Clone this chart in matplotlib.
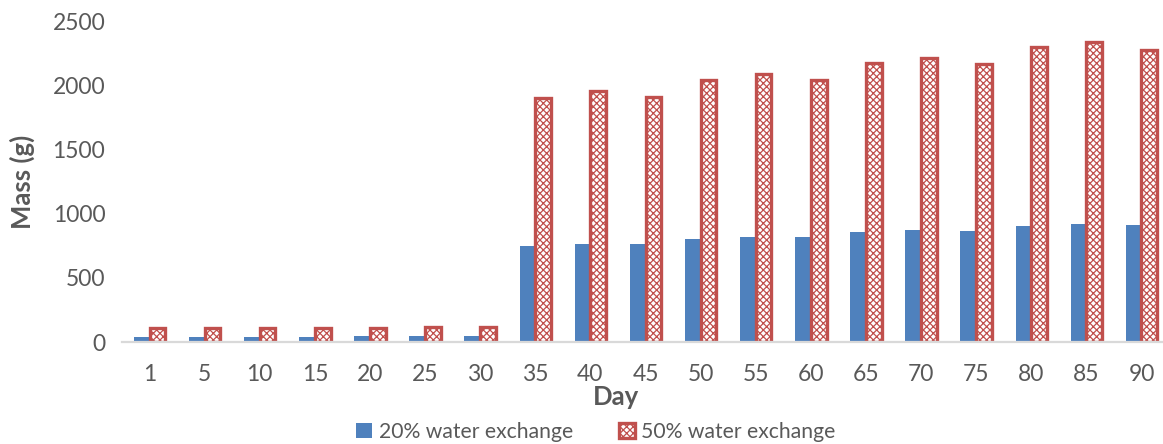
import matplotlib
matplotlib.use("Agg")
import matplotlib.pyplot as plt
import numpy as np

days = ["1", "5", "10", "15", "20", "25", "30", "35", "40", "45",
        "50", "55", "60", "65", "70", "75", "80", "85", "90"]
mass_20 = [40, 42, 42, 42, 43, 45, 45, 750, 766, 766,
           805, 820, 820, 857, 872, 870, 906, 919, 911]
mass_50 = [110, 110, 112, 108, 113, 118, 118, 1910, 1958, 1912,
           2048, 2092, 2048, 2180, 2222, 2172, 2302, 2340, 2282]
y_ticks = [0, 500, 1000, 1500, 2000, 2500]

plt.rcParams["font.family"] = ["Lato", "DejaVu Sans"]
plt.rcParams["hatch.linewidth"] = 0.9

text_grey = "#595959"
blue = "#4F81BD"
red = "#C0504D"

fig = plt.figure(figsize=(11.63, 4.44), dpi=100)
ax = fig.add_axes([122 / 1163, 102 / 444, 1047 / 1163, 320 / 444])

x = np.arange(len(days))
w = 0.285
ax.bar(x - w / 2, mass_20, width=w, color=blue, linewidth=0,
       label="20% water exchange", zorder=2)
ax.bar(x + w / 2, mass_50, width=w, facecolor="white", edgecolor=red,
       hatch="xxxxx", linewidth=2.4, label="50% water exchange", zorder=2)

ax.set_xlim(-0.5, len(days) - 0.5)
ax.set_ylim(0, 2500)
ax.set_yticks(y_ticks)
ax.set_xticks(x)
ax.set_xticklabels(days)
ax.tick_params(axis="both", length=0, labelsize=16.5, labelcolor=text_grey)
ax.tick_params(axis="y", pad=12)
ax.tick_params(axis="x", pad=16)

for side in ("top", "right", "left"):
    ax.spines[side].set_visible(False)
ax.spines["bottom"].set_color("#D9D9D9")
ax.spines["bottom"].set_linewidth(1.6)
ax.spines["bottom"].set_zorder(3)

ax.set_ylabel("Mass (g)", fontsize=18.5, fontweight="bold", color=text_grey)
ax.yaxis.set_label_coords(-0.0955, 0.5)
ax.set_xlabel("Day", fontsize=18.5, fontweight="bold", color=text_grey)
ax.xaxis.set_label_coords(0.4715, -0.172)
ax.xaxis.label.set_va("center")
ax.yaxis.label.set_va("center")

fig.legend(loc="center", bbox_to_anchor=(0.5125, 0.027), ncol=2, frameon=False,
           fontsize=15.2, labelcolor=text_grey, handlelength=0.75, handleheight=0.75,
           handletextpad=0.3, columnspacing=2.2)

fig.savefig("out.png", dpi=100)
